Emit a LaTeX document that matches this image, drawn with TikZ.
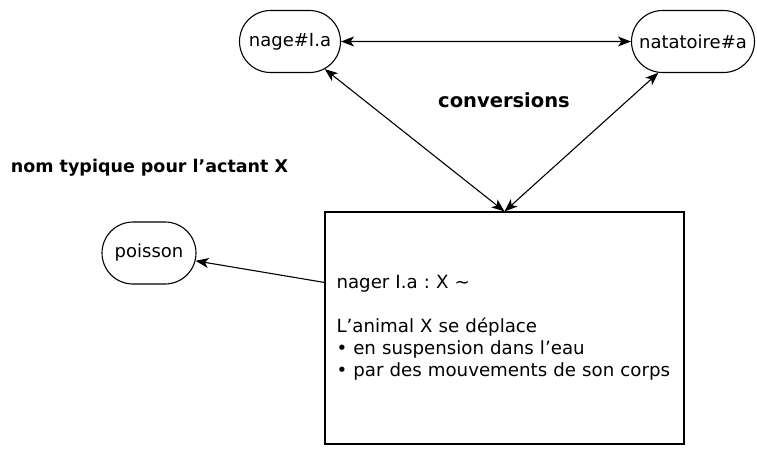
\documentclass[tikz,border=0pt]{standalone}
\usepackage{fontspec}
\setmainfont{DejaVu Sans}
\usetikzlibrary{shapes, arrows.meta, positioning, calc}
\frenchspacing

\begin{document}
\begin{tikzpicture}[x=1pt, y=1pt,
  lex/.style = {draw, rounded rectangle, line width=1.1pt, inner sep=0pt, minimum height=62pt, font=\fontsize{18}{20}\selectfont},
  defbox/.style = {draw, rectangle, line width=1.1pt, minimum width=359pt, minimum height=232pt, text width=344pt, align=left, inner xsep=7.5pt, inner ysep=10pt, font=\fontsize{18.2}{22}\selectfont},
  heading/.style = {inner sep=0pt, font=\bfseries\fontsize{17.5}{20}\selectfont},
  link/.style = {line width=1.1pt, {Stealth[length=13pt,width=10pt,inset=3.5pt]}-{Stealth[length=13pt,width=10pt,inset=3.5pt]}},
  onelink/.style = {line width=1.1pt, -{Stealth[length=13pt,width=10pt,inset=3.5pt]}}] 
\useasboundingbox (0,0) rectangle (757,-448);

\node[lex, minimum width=101pt] (nage) at (290,-41.5) {nage\#I.a};
\node[lex, minimum width=123pt] (natatoire) at (693,-41.5) {natatoire\#a};
\node[lex, minimum width=94pt] (poisson) at (149,-253) {poisson};
\node[defbox] (def) at (504.5,-328) {\hspace*{4pt}nager I.a : X \textasciitilde\\[22pt]
  \hspace*{4pt}L’animal X se déplace\\
  \hspace*{4pt}• en suspension dans l’eau\\
  \hspace*{4pt}• par des mouvements de son corps};

\node[heading, font=\bfseries\fontsize{19.5}{22}\selectfont] (conv) at (504,-100) {conversions};
\node[heading] (actant) at (149.5,-168) {nom typique pour l’actant X};

\coordinate (src) at ([yshift=-71pt]def.north west);

\draw[link] (nage) -- (natatoire);
\draw[link] (def.north) -- (nage);
\draw[link] (def.north) -- (natatoire);
\draw[onelink] (src) -- (poisson);
\end{tikzpicture}
\end{document}
